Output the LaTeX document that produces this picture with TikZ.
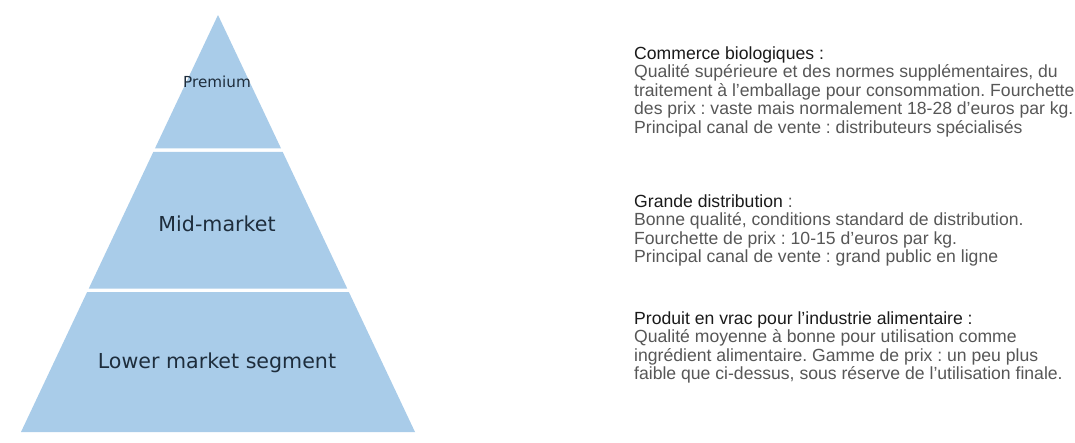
\documentclass[tikz,border=0pt]{standalone}
\usepackage{fontspec}
\setmainfont{Liberation Sans}
\newfontfamily\pyrfont{DejaVu Sans}
\usetikzlibrary{calc}
\definecolor{tierblue}{HTML}{A9CCE9}
\definecolor{tiertext}{HTML}{1E2D3C}
\definecolor{bodygray}{HTML}{575757}
\definecolor{headblack}{HTML}{1A1A1A}
\tikzset{
  tier/.style={fill=tierblue, draw=none},
  tierlabel/.style={text=tiertext, font=\pyrfont\fontsize{20.6}{24}\selectfont, inner sep=0pt},
  headline/.style={anchor=base west, inner sep=0pt, text=headblack, font=\fontsize{17.6}{19}\selectfont},
  bodyline/.style={anchor=base west, inner sep=0pt, text=bodygray, font=\fontsize{17.6}{19}\selectfont},
}
\begin{document}
\frenchspacing
\begin{tikzpicture}[x=1pt,y=-1pt]
\useasboundingbox (0,0) rectangle (1075,442);
\fill[white] (0,0) rectangle (1075,442);
\coordinate (apex) at (218,15);
\coordinate (bl) at (21,432);
\coordinate (br) at (415,432);
% tiers
\fill[tier] (apex) -- ($(apex)!0.3201!(br)$) -- ($(apex)!0.3201!(bl)$) -- cycle;
\fill[tier] ($(apex)!0.3285!(bl)$) -- ($(apex)!0.3285!(br)$) -- ($(apex)!0.6559!(br)$) -- ($(apex)!0.6559!(bl)$) -- cycle;
\fill[tier] ($(apex)!0.6643!(bl)$) -- ($(apex)!0.6643!(br)$) -- (br) -- (bl) -- cycle;
% tier labels
\node[tierlabel, font=\pyrfont\fontsize{15.2}{17}\selectfont] (premium) at (217,82) {Premium};
\node[tierlabel] (mid) at (217,224) {Mid-market};
\node[tierlabel] (lower) at (217,363) {Lower market segment};
% block 1
\node[headline] (h1) at (634,59) {Commerce biologiques :};
\node[bodyline] (b1a) at (634,77.5) {Qualité supérieure et des normes supplémentaires, du};
\node[bodyline] (b1b) at (634,96) {traitement à l’emballage pour consommation. Fourchette};
\node[bodyline] (b1c) at (634,114.5) {des prix : vaste mais normalement 18-28 d’euros par kg.};
\node[bodyline] (b1d) at (634,133) {Principal canal de vente : distributeurs spécialisés};
% block 2
\node[headline] (h2) at (634,207) {Grande distribution \textcolor{bodygray}{:}};
\node[bodyline] (b2a) at (634,225.5) {Bonne qualité, conditions standard de distribution.};
\node[bodyline] (b2b) at (634,244) {Fourchette de prix : 10-15 d’euros par kg.};
\node[bodyline] (b2c) at (634,262.5) {Principal canal de vente : grand public en ligne};
% block 3
\node[headline] (h3) at (634,324) {Produit en vrac pour l’industrie alimentaire :};
\node[bodyline] (b3a) at (634,342.5) {Qualité moyenne à bonne pour utilisation comme};
\node[bodyline] (b3b) at (634,361) {ingrédient alimentaire. Gamme de prix : un peu plus};
\node[bodyline] (b3c) at (634,379.5) {faible que ci-dessus, sous réserve de l’utilisation finale.};
\end{tikzpicture}
\end{document}
